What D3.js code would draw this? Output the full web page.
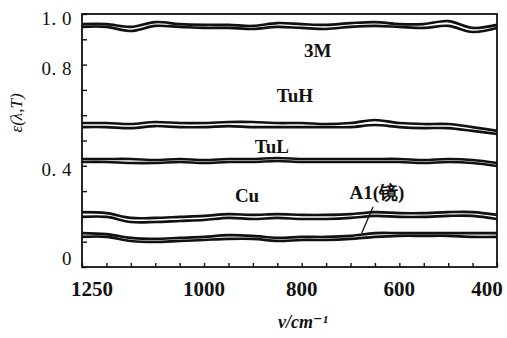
<!DOCTYPE html>
<html>
<head>
<meta charset="utf-8">
<script src="https://cdn.jsdelivr.net/npm/d3@7"></script>
<style>
  body { margin: 0; background: #fff; }
  svg { display: block; }
  text { font-family: "Liberation Serif", "DejaVu Serif", serif; fill: #111; }
</style>
</head>
<body>
<div id="chart"></div>
<script>
// wavenumber samples (cm^-1), read every 50
const wavenumbers = [1250,1200,1150,1100,1050,1000,950,900,850,800,750,700,650,600,550,500,450,400];

// each sample shows two close traces per material
const m3Upper  = [0.960,0.960,0.949,0.968,0.960,0.957,0.957,0.953,0.964,0.960,0.957,0.964,0.968,0.960,0.960,0.972,0.945,0.957];
const m3Lower  = [0.949,0.949,0.933,0.953,0.949,0.945,0.945,0.941,0.949,0.945,0.941,0.949,0.953,0.949,0.945,0.953,0.929,0.945];
const tuhUpper = [0.569,0.569,0.565,0.573,0.569,0.569,0.573,0.573,0.569,0.569,0.565,0.569,0.581,0.569,0.565,0.565,0.553,0.538];
const tuhLower = [0.553,0.553,0.549,0.557,0.553,0.553,0.557,0.553,0.553,0.553,0.553,0.553,0.561,0.553,0.549,0.549,0.538,0.526];
const tulUpper = [0.427,0.427,0.427,0.423,0.427,0.423,0.427,0.427,0.431,0.427,0.427,0.427,0.427,0.427,0.423,0.427,0.423,0.411];
const tulLower = [0.415,0.415,0.411,0.411,0.415,0.411,0.415,0.415,0.419,0.415,0.415,0.415,0.415,0.415,0.411,0.415,0.411,0.399];
const cuUpper  = [0.217,0.213,0.194,0.194,0.198,0.202,0.209,0.206,0.209,0.206,0.206,0.209,0.217,0.213,0.213,0.217,0.217,0.206];
const cuLower  = [0.198,0.198,0.178,0.178,0.182,0.186,0.194,0.190,0.194,0.190,0.190,0.194,0.202,0.198,0.198,0.202,0.202,0.190];
const alUpper  = [0.134,0.130,0.115,0.111,0.115,0.119,0.126,0.123,0.115,0.119,0.119,0.123,0.134,0.134,0.134,0.134,0.134,0.134];
const alLower  = [0.119,0.119,0.103,0.099,0.103,0.107,0.111,0.111,0.103,0.107,0.107,0.111,0.119,0.123,0.123,0.123,0.119,0.119];

const traces = [m3Upper, m3Lower, tuhUpper, tuhLower, tulUpper, tulLower, cuUpper, cuLower, alUpper, alLower];

// axis ticks / labels
const xTickLabels = [1250, 1000, 800, 600, 400];
const yTickLabels = [1.0, 0.8, 0.4, 0];

// curve names, anchored in data units (wavenumber, emissivity)
const curveNames = [
  { text: "3M",     v: 767, e: 0.832 },
  { text: "TuH",    v: 814, e: 0.652 },
  { text: "TuL",    v: 861, e: 0.452 },
  { text: "Cu",     v: 912, e: 0.258 },
  { text: "A1(镜)", v: 646, e: 0.270 }
];
const alPointer = [[654, 0.237], [677, 0.134]];

const width = 507, height = 338;
const margin = { top: 14, right: 10, bottom: 71, left: 82 };
const w = width - margin.left - margin.right;
const h = height - margin.top - margin.bottom;

const svg = d3.select("#chart").append("svg")
  .attr("width", width)
  .attr("height", height);

const g = svg.append("g")
  .attr("transform", "translate(" + margin.left + "," + margin.top + ")");

const x = d3.scaleLinear().domain([1250, 400]).range([0, w]);
const y = d3.scaleLinear().domain([0, 1]).range([h, 0]);

// frame
g.append("rect")
  .attr("width", w).attr("height", h)
  .attr("fill", "none").attr("stroke", "#111").attr("stroke-width", 1.8);

// bottom axis: minor ticks every 50, pointing inward
const xAxis = g.append("g")
  .attr("transform", "translate(0," + h + ")")
  .call(d3.axisTop(x).tickValues(d3.range(1250, 399, -50)).tickSize(4).tickFormat(""));
xAxis.select(".domain").remove();
xAxis.selectAll("line").attr("stroke", "#111").attr("stroke-width", 1.4);

g.append("g").selectAll("text")
  .data(xTickLabels)
  .join("text")
  .attr("x", d => x(d) + (d === 1250 ? 10 : d === 400 ? -10 : 0))
  .attr("y", h + 29)
  .attr("text-anchor", "middle")
  .attr("font-size", 21)
  .attr("font-weight", "bold")
  .text(d => d);

// left axis: ticks every 0.1, pointing inward
const yAxis = g.append("g")
  .call(d3.axisRight(y).tickValues(d3.range(0, 1.01, 0.1)).tickSize(5).tickFormat(""));
yAxis.select(".domain").remove();
yAxis.selectAll("line").attr("stroke", "#111").attr("stroke-width", 1.4);

g.append("g").selectAll("text")
  .data(yTickLabels)
  .join("text")
  .attr("x", -10)
  .attr("y", d => Math.min(Math.max(y(d) + 10, 11), h - 2))
  .attr("text-anchor", "end")
  .attr("font-size", 19)
  .attr("letter-spacing", 0.5)
  .text(d => d === 0 ? "0" : d.toFixed(1).replace(".", ". "));

// traces
const line = d3.line()
  .x((d, i) => x(wavenumbers[i]))
  .y(d => y(d))
  .curve(d3.curveCatmullRom);

g.append("g").selectAll("path")
  .data(traces)
  .join("path")
  .attr("d", line)
  .attr("fill", "none")
  .attr("stroke", "#111")
  .attr("stroke-width", 2.6);

// pointer to Al trace
g.append("path")
  .attr("d", d3.line().x(d => x(d[0])).y(d => y(d[1]))(alPointer))
  .attr("fill", "none").attr("stroke", "#111").attr("stroke-width", 1.3);

// curve names
g.append("g").selectAll("text")
  .data(curveNames)
  .join("text")
  .attr("x", d => x(d.v))
  .attr("y", d => y(d.e))
  .attr("text-anchor", "middle")
  .attr("font-size", 19)
  .attr("font-weight", "bold")
  .text(d => d.text);

// axis titles
svg.append("text")
  .attr("transform", "translate(22,113) rotate(-90)")
  .attr("text-anchor", "middle")
  .attr("font-size", 17)
  .attr("font-style", "italic")
  .text("ε(λ,T)");

svg.append("text")
  .attr("x", 303).attr("y", 328)
  .attr("text-anchor", "middle")
  .attr("font-size", 18)
  .attr("font-style", "italic")
  .attr("font-weight", "bold")
  .text("ν/cm⁻¹");
</script>
</body>
</html>
